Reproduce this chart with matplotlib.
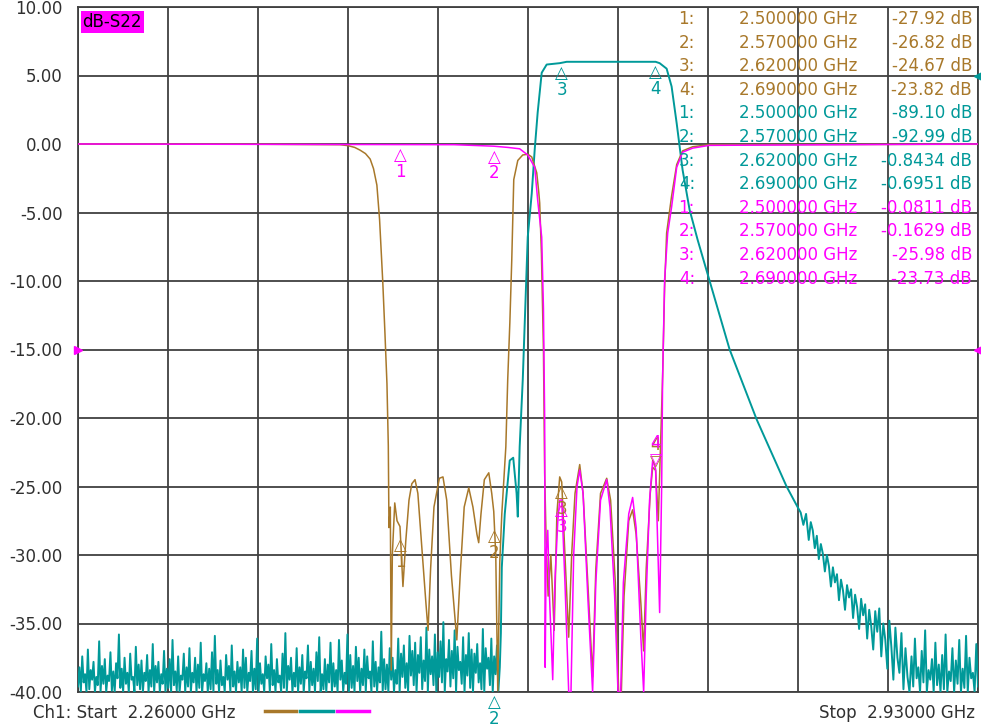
import numpy as np
import matplotlib.pyplot as plt
from matplotlib.lines import Line2D

# trace colours as seen on the analyser screen
BROWN = '#A8782A'
TEAL = '#009999'
MAGENTA = '#FF00FF'
GRID = '#404040'

f_start, f_stop = 2.26, 2.93
y_ticks = [10, 5, 0, -5, -10, -15, -20, -25, -30, -35, -40]
y_labels = ['10.00', '5.00', '0.00', '-5.00', '-10.00', '-15.00', '-20.00',
            '-25.00', '-30.00', '-35.00', '-40.00']

# brown trace (common port return loss)
brown_f = [2.260, 2.400, 2.455, 2.461, 2.466, 2.470, 2.474, 2.4775, 2.480, 2.4825,
           2.4845, 2.4869, 2.4885, 2.4900, 2.4910, 2.4915, 2.4925, 2.4932, 2.4940, 2.4958,
           2.4975, 2.4997, 2.5019, 2.5040, 2.5064, 2.5085, 2.5109, 2.5130, 2.5160, 2.5190,
           2.5206, 2.5225, 2.5250, 2.5290, 2.5317, 2.5345, 2.5380, 2.5420, 2.5445, 2.5475,
           2.5509, 2.5540, 2.5570, 2.5583, 2.5600, 2.5625, 2.5658, 2.5680, 2.5695, 2.5710,
           2.5725, 2.5740, 2.5755, 2.5785, 2.5799, 2.5815, 2.5829, 2.5844, 2.5874, 2.5911,
           2.5950, 2.5978, 2.6015, 2.6030, 2.6037, 2.6050, 2.6065, 2.6074, 2.6085, 2.6100,
           2.6120, 2.6145, 2.6165, 2.6186, 2.6201, 2.6225, 2.6253, 2.6275, 2.6300, 2.6335,
           2.6360, 2.6395, 2.6431, 2.6455, 2.6490, 2.6536, 2.6565, 2.6600, 2.6625, 2.6645,
           2.6665, 2.6700, 2.6729, 2.6755, 2.6790, 2.6811, 2.6830, 2.6860, 2.6878, 2.6900,
           2.6920, 2.6935, 2.6952, 2.6967, 2.6982, 2.7019, 2.7057, 2.7101, 2.7176, 2.7300,
           2.9300]
brown_db = [0.0, -0.02, -0.05, -0.12, -0.25, -0.45, -0.7, -1.1, -1.8, -3.0,
            -5.5, -10.1, -13.8, -17.5, -22.0, -28.0, -26.5, -38.4, -30.0, -26.2,
            -27.5, -27.92, -32.3, -29.0, -26.0, -24.8, -24.5, -25.5, -29.5, -33.5,
            -35.5, -31.0, -26.5, -24.4, -24.3, -26.0, -31.5, -36.2, -31.5, -26.5,
            -25.1, -26.5, -28.5, -29.1, -27.0, -24.5, -24.0, -25.5, -26.82, -30.0,
            -39.9, -30.5, -27.0, -22.1, -17.2, -13.0, -8.5, -2.6, -1.2, -0.8,
            -0.75, -0.95, -2.1, -3.5, -4.3, -8.0, -15.0, -24.0, -29.0, -33.0,
            -30.0, -35.5, -27.0, -24.3, -24.67, -30.0, -36.0, -30.0, -25.5, -23.4,
            -25.5, -32.0, -38.9, -31.0, -25.5, -24.4, -26.0, -32.0, -40.0, -40.0,
            -33.0, -27.5, -26.7, -28.5, -33.5, -37.0, -31.0, -25.5, -23.6, -23.82,
            -27.5, -22.5, -17.0, -10.5, -6.5, -3.8, -1.5, -0.5, -0.2, -0.05,
            -0.02]

# magenta trace (high band port return loss)
magenta_f = [2.260, 2.540, 2.5695, 2.580, 2.5888, 2.5948, 2.6000, 2.6022, 2.6052, 2.6065,
             2.6074, 2.6078, 2.6085, 2.6097, 2.6110, 2.6134, 2.6150, 2.6172, 2.6186, 2.6201,
             2.6225, 2.6253, 2.6270, 2.6290, 2.6315, 2.6335, 2.6360, 2.6395, 2.6431, 2.6455,
             2.6490, 2.6536, 2.6560, 2.6595, 2.6620, 2.6640, 2.6660, 2.6700, 2.6729, 2.6755,
             2.6790, 2.6811, 2.6830, 2.6855, 2.6878, 2.6900, 2.6915, 2.6930, 2.6945, 2.6952,
             2.6967, 2.6990, 2.7019, 2.7057, 2.7101, 2.7176, 2.7300, 2.9300]
magenta_db = [0.0, -0.05, -0.16, -0.25, -0.35, -0.8, -1.7, -4.1, -6.8, -12.0,
              -20.0, -38.2, -30.0, -28.2, -33.0, -39.1, -32.0, -27.5, -26.0, -25.98,
              -32.0, -40.0, -40.0, -30.0, -25.0, -23.8, -25.5, -33.0, -40.0, -32.0,
              -26.0, -24.5, -26.5, -33.0, -40.0, -40.0, -32.0, -27.0, -25.8, -28.0,
              -36.0, -40.0, -33.0, -26.0, -23.1, -23.73, -29.0, -34.2, -25.0, -17.2,
              -9.9, -6.5, -4.6, -1.7, -0.6, -0.3, -0.1, 0.0]

# teal trace (transmission): noise floor below the band (2.260 .. 2.574 GHz)
teal_floor_left = [
    -39.6, -38.2, -40.0, -37.4, -39.3, -38.7, -40.0, -36.9, -39.8, -38.4, -39.1, -37.8, -40.0, -38.9, -39.5, -36.3, -40.0, -38.1, -39.4, -37.6,
    -40.0, -38.8, -39.2, -37.1, -39.9, -38.5, -40.0, -37.9, -39.0, -35.8, -39.7, -38.3, -40.0, -37.5, -39.4, -38.6, -40.0, -37.2, -39.1, -38.9,
    -40.0, -36.7, -39.5, -38.0, -39.8, -37.7, -40.0, -38.6, -39.2, -37.3, -40.0, -38.4, -39.6, -36.5, -40.0, -38.1, -39.3, -37.8, -40.0, -38.7,
    -39.4, -37.0, -40.0, -38.3, -39.7, -37.6, -40.0, -36.2, -39.5, -38.5, -39.9, -37.4, -40.0, -38.8, -39.1, -37.2, -40.0, -38.2, -39.6, -36.8,
    -40.0, -38.6, -39.3, -37.5, -40.0, -38.0, -39.7, -36.4, -40.0, -38.7, -39.2, -37.9, -40.0, -38.3, -39.8, -37.1, -40.0, -35.9, -39.4, -38.4,
    -40.0, -37.7, -39.5, -38.9, -40.0, -37.3, -39.1, -38.1, -40.0, -36.6, -39.6, -38.5, -40.0, -37.8, -39.3, -38.2, -40.0, -36.9, -39.7, -37.5,
    -40.0, -38.6, -39.2, -37.0, -40.0, -38.3, -39.8, -36.1, -40.0, -37.9, -39.4, -38.7, -40.0, -37.4, -39.0, -38.0, -40.0, -36.5, -39.5, -38.4,
    -40.0, -37.6, -39.3, -38.8, -40.0, -37.2, -39.7, -35.7, -40.0, -38.1, -39.1, -37.5, -40.0, -38.6, -39.6, -36.8, -40.0, -38.2, -39.4, -37.3,
    -40.0, -38.5, -39.0, -36.6, -40.0, -37.8, -39.5, -38.3, -40.0, -37.1, -39.2, -36.0, -40.0, -38.7, -39.8, -37.6, -40.0, -38.0, -39.3, -36.4,
    -40.0, -37.9, -39.6, -38.4, -40.0, -36.2, -39.1, -37.7, -40.0, -38.6, -39.4, -35.8, -40.0, -37.3, -39.7, -38.1, -40.0, -36.7, -39.2, -37.5,
    -40.0, -38.3, -39.5, -36.9, -40.0, -37.4, -39.0, -38.5, -40.0, -36.3, -39.6, -37.8, -40.0, -38.2, -39.3, -35.6, -40.0, -37.6, -39.8, -38.0,
    -40.0, -36.8, -39.1, -37.5, -40.0, -38.4, -39.4, -36.1, -40.0, -37.2, -38.9, -36.6, -39.7, -37.9, -40.0, -35.9, -38.8, -37.0, -39.5, -36.4,
    -40.0, -37.3, -38.6, -36.0, -39.8, -37.7, -39.2, -35.3, -40.0, -36.9, -38.7, -37.4, -39.5, -35.8, -40.0, -37.1, -38.9, -36.3, -39.3, -34.9,
    -40.0, -37.6, -38.5, -36.2, -39.6, -37.0, -39.0, -35.5, -40.0, -36.7, -38.4, -37.8, -39.4, -36.0, -40.0, -37.3, -38.8, -35.7, -39.7, -36.9,
    -40.0, -37.2, -38.6, -36.5, -39.3, -37.9, -39.8, -35.4, -40.0, -36.8, -38.3, -37.5, -39.5, -36.1, -40.0, -37.4, -38.7, -36.6, -39.9, -38.2]
# rising edge, passband and upper skirt
teal_main_f = [2.5748, 2.5755, 2.5777, 2.5814, 2.5840, 2.5865, 2.5874, 2.5888, 2.5911, 2.5948,
               2.5978, 2.6000, 2.6022, 2.6052, 2.6089, 2.6186, 2.6238, 2.6900, 2.6930, 2.6982,
               2.7019, 2.7057, 2.7101, 2.7153, 2.7213, 2.7302, 2.7451, 2.7652, 2.7875, 2.7957]
teal_main_db = [-35.7, -30.9, -27.0, -23.1, -22.9, -25.5, -27.2, -22.1, -17.2, -6.8,
                -3.6, -0.4, 2.3, 5.2, 5.8, 5.9, 6.0, 6.0, 5.9, 5.5,
                4.2, 1.5, -1.9, -4.8, -7.0, -10.0, -15.0, -20.1, -25.0, -26.5]
# noisy lower part of the skirt
teal_skirt_f = [2.7980, 2.8000, 2.8020, 2.8040, 2.8055, 2.8070, 2.8085, 2.8100, 2.8115, 2.8130,
                2.8145, 2.8160, 2.8175, 2.8190, 2.8205, 2.8220, 2.8235, 2.8250, 2.8265, 2.8280,
                2.8295, 2.8310, 2.8325, 2.8340, 2.8355, 2.8370, 2.8385, 2.8400, 2.8415, 2.8430,
                2.8445, 2.8460, 2.8475, 2.8490, 2.8505, 2.8520, 2.8535, 2.8550, 2.8565, 2.8580,
                2.8595, 2.8610, 2.8625, 2.8640, 2.8655, 2.8670, 2.8685, 2.8700, 2.8715, 2.8730,
                2.8745, 2.8760, 2.8775, 2.8790]
teal_skirt_db = [-26.9, -27.8, -27.0, -28.9, -27.6, -28.2, -29.5, -28.6, -30.3, -29.2,
                 -29.9, -31.2, -30.0, -30.8, -32.3, -30.9, -32.0, -31.4, -33.3, -31.8,
                 -32.6, -34.0, -32.2, -33.1, -32.5, -34.6, -32.9, -33.8, -35.4, -33.2,
                 -34.4, -33.6, -36.1, -34.0, -35.2, -36.9, -34.1, -35.6, -33.9, -37.4,
                 -35.0, -36.2, -38.3, -34.8, -36.7, -39.1, -35.3, -37.5, -38.6, -35.7,
                 -39.8, -36.8, -38.9, -40.0]
# noise floor above the band (2.8805 .. 2.930 GHz)
teal_floor_right = [
    -37.4, -39.6, -36.1, -39.0, -38.2, -40.0, -37.0, -39.3, -35.5, -40.0,
    -38.4, -39.1, -37.6, -40.0, -36.4, -39.5, -38.0, -40.0, -37.3, -39.8,
    -35.8, -40.0, -38.5, -39.2, -36.8, -40.0, -37.7, -39.4, -36.2, -40.0,
    -38.3, -39.7, -35.9, -40.0, -37.5, -39.0, -38.6, -40.0, -36.5, -39.6]

marker_freqs = [2.50, 2.57, 2.62, 2.69]
table_nums = ['1:', '2:', '3:', '4:']
table_freqs = ['2.500000 GHz', '2.570000 GHz', '2.620000 GHz', '2.690000 GHz']
brown_readout = ['-27.92 dB', '-26.82 dB', '-24.67 dB', '-23.82 dB']
teal_readout = ['-89.10 dB', '-92.99 dB', '-0.8434 dB', '-0.6951 dB']
magenta_readout = ['-0.0811 dB', '-0.1629 dB', '-25.98 dB', '-23.73 dB']

teal_f = np.concatenate([np.linspace(2.26, 2.574, len(teal_floor_left)), teal_main_f,
                         teal_skirt_f, np.linspace(2.8805, 2.93, len(teal_floor_right))])
teal_db = np.concatenate([teal_floor_left, teal_main_db, teal_skirt_db, teal_floor_right])

W, H = 981, 727
fig = plt.figure(figsize=(W / 100, H / 100), dpi=100)
fig.patch.set_facecolor('white')
ax = fig.add_axes([78 / W, 1 - 692 / H, 900 / W, 685 / H])
FONT = 'DejaVu Sans'
FS = 12

ax.set_xlim(f_start, f_stop)
ax.set_ylim(-40, 10)
ax.set_xticks(np.linspace(f_start, f_stop, 11))
ax.set_xticklabels([])
ax.set_yticks(y_ticks)
ax.set_yticklabels(y_labels, fontsize=FS, family=FONT, color='#303030')
ax.tick_params(length=0, pad=11)
ax.grid(True, color=GRID, lw=1.3)
for s in ax.spines.values():
    s.set_color(GRID)
    s.set_linewidth(1.3)

ax.plot(teal_f, teal_db, color=TEAL, lw=1.4, zorder=3)
ax.plot(brown_f, brown_db, color=BROWN, lw=1.1, zorder=4)
ax.plot(magenta_f, magenta_db, color=MAGENTA, lw=1.1, zorder=5)


def mark(f, v, num, color, down=True, clip=True):
    # open triangle with its tip on the trace, number next to it
    if down:
        ax.annotate('△', xy=(f, v), xytext=(0, -1), textcoords='offset points',
                    ha='center', va='top', color=color, fontsize=12, family=FONT,
                    zorder=6, annotation_clip=clip)
        ax.annotate(num, xy=(f, v), xytext=(0, -13), textcoords='offset points',
                    ha='center', va='top', color=color, fontsize=FS, family=FONT,
                    zorder=6, annotation_clip=clip)
    else:
        ax.annotate('▽', xy=(f, v), xytext=(0, 1), textcoords='offset points',
                    ha='center', va='bottom', color=color, fontsize=11, family=FONT,
                    zorder=6)
        ax.annotate(num, xy=(f, v), xytext=(0, 12), textcoords='offset points',
                    ha='center', va='bottom', color=color, fontsize=FS, family=FONT,
                    zorder=6)


for i, fm in enumerate(marker_freqs[:3]):
    mark(fm, np.interp(fm, brown_f, brown_db), str(i + 1), BROWN)
mark(marker_freqs[3], np.interp(marker_freqs[3], brown_f, brown_db), '4', BROWN, down=False)
for i, fm in enumerate(marker_freqs[:3]):
    mark(fm, np.interp(fm, magenta_f, magenta_db), str(i + 1), MAGENTA)
mark(marker_freqs[3], np.interp(marker_freqs[3], magenta_f, magenta_db), '4', MAGENTA, down=False)
for i in (2, 3):
    mark(marker_freqs[i], np.interp(marker_freqs[i], teal_f, teal_db), str(i + 1), TEAL)
# teal marker 2 is below the screen, drawn under the bottom edge
mark(marker_freqs[1], -40, '2', TEAL, clip=False)

# reference position arrows
ax.plot([f_start], [-15], marker='>', color=MAGENTA, ms=6, clip_on=False, zorder=7)
ax.plot([f_stop], [-15], marker='<', color=MAGENTA, ms=6, clip_on=False, zorder=7)
ax.plot([f_stop], [5], marker='<', color=TEAL, ms=6, clip_on=False, zorder=7)

ax.text(0.005, 0.991, 'dB-S22', transform=ax.transAxes, ha='left', va='top',
        fontsize=FS, family=FONT, color='black', zorder=8,
        bbox=dict(boxstyle='square,pad=0.1', fc=MAGENTA, ec='none'))

# marker readout table
rows = ([(BROWN, v) for v in brown_readout] + [(TEAL, v) for v in teal_readout]
        + [(MAGENTA, v) for v in magenta_readout])
for k, (col, val) in enumerate(rows):
    y = 1 - (19 + k * 23.6) / H
    fig.text(695 / W, y, table_nums[k % 4], ha='right', va='center', color=col,
             fontsize=FS, family=FONT, zorder=9)
    fig.text(857 / W, y, table_freqs[k % 4], ha='right', va='center', color=col,
             fontsize=FS, family=FONT, zorder=9)
    fig.text(972 / W, y, val, ha='right', va='center', color=col,
             fontsize=FS, family=FONT, zorder=9)

# footer
fig.text(33 / W, 1 - 713 / H, 'Ch1: Start  2.26000 GHz', ha='left', va='center',
         fontsize=FS, family=FONT, color='#303030')
fig.text(975 / W, 1 - 713 / H, 'Stop  2.93000 GHz', ha='right', va='center',
         fontsize=FS, family=FONT, color='#303030')
for x0, x1, col in [(265, 296, BROWN), (300, 333, TEAL), (337, 369, MAGENTA)]:
    fig.add_artist(Line2D([x0 / W, x1 / W], [1 - 711 / H, 1 - 711 / H], color=col, lw=2.5,
                          transform=fig.transFigure))

fig.savefig('out.png', dpi=100)
